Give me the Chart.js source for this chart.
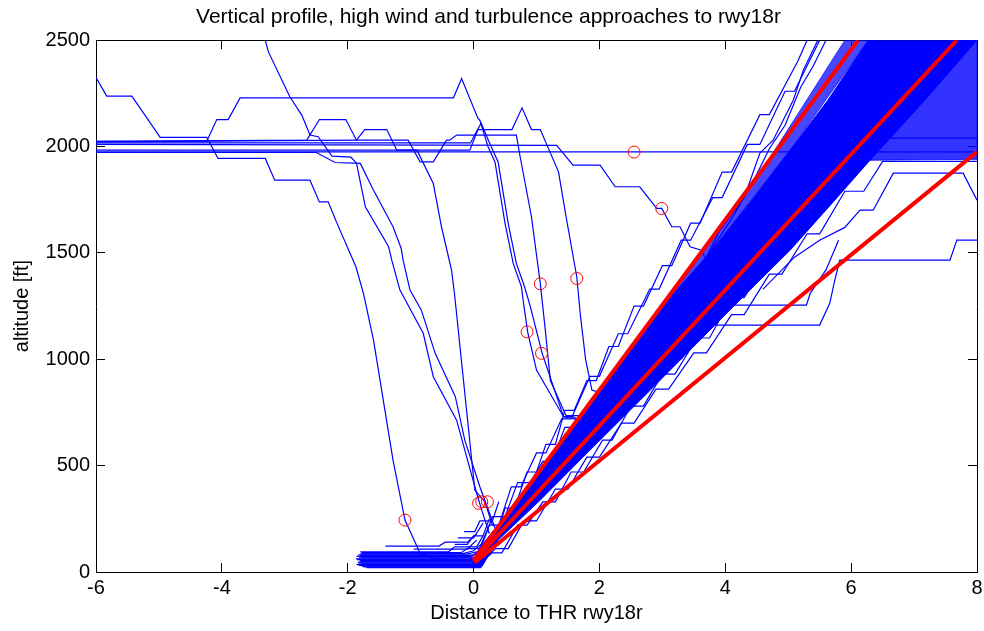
<!DOCTYPE html>
<html>
<head>
<meta charset="utf-8">
<script src="https://cdn.jsdelivr.net/npm/chart.js@4.4.1/dist/chart.umd.min.js"></script>
<style>
  html, body { margin: 0; padding: 0; background: #fff; }
</style>
</head>
<body>
<canvas id="grafico" width="984" height="631"></canvas>
<script>
// eixos
const xTicks = [-6, -4, -2, 0, 2, 4, 6, 8];
const yTicks = [0, 500, 1000, 1500, 2000, 2500];

// rampas de referencia (vermelho)
const slopeHigh = [[0.0, 55], [6.11, 2500]];
const slopeMid = [[0.0, 50], [7.68, 2500]];
const slopeLow = [[0.02, 45], [8.0, 1975]];

// marcadores (circulos vermelhos)
const markers = [[2.55, 1974], [2.99, 1709], [1.64, 1380], [1.06, 1355], [0.85, 1129], [1.08, 1028],
    [-1.09, 244], [0.08, 323], [0.13, 330], [0.22, 330]];

// trajetorias que fogem do padrao
const trackHigh = [[-6, 2325], [-5.83, 2237], [-5.43, 2237], [-4.98, 2043], [-4.24, 2043], [-4.06, 1944], [-3.31, 1944],
    [-3.16, 1842], [-2.60, 1842], [-2.45, 1740], [-2.31, 1740], [-2.18, 1646], [-1.87, 1435], [-1.75, 1310],
    [-1.59, 1090], [-1.28, 526], [-1.09, 244], [-0.85, 88], [-0.6, 62], [0.0, 55]];
const trackTop = [[-3.31, 2500], [-3.26, 2445], [-2.92, 2234], [-2.73, 2148], [-2.60, 2054], [-2.47, 2046], [-2.25, 1955],
    [-1.95, 1950], [-1.86, 1921], [-1.72, 1717], [-1.35, 1529], [-1.30, 1466], [-1.17, 1325], [-0.80, 1122],
    [-0.64, 918], [-0.27, 714], [0.05, 369], [0.12, 300], [0.25, 180]];
const trackDip = [[-6, 1972], [-2.5, 1972], [-2.2, 1925], [-1.80, 1921], [-1.59, 1795], [-1.28, 1623], [-1.15, 1521],
    [-1.12, 1466], [-1.01, 1325], [-0.83, 1231], [-0.61, 1028], [-0.29, 824], [-0.14, 620], [0.10, 401],
    [0.2, 320], [0.35, 200]];
const trackLate = [[-6, 1983], [-0.90, 1983], [-0.64, 1827], [-0.51, 1623], [-0.35, 1419], [-0.30, 1300], [0.02, 385],
    [0.18, 330], [0.3, 220]];
const trackPeak = [[-6, 2025], [-4.24, 2025], [-4.08, 2127], [-3.90, 2127], [-3.71, 2229], [-0.32, 2229], [-0.19, 2320],
    [0.07, 2132], [0.10, 2124], [0.23, 1999], [0.34, 1928], [0.50, 1639], [0.63, 1451], [0.76, 1341],
    [0.80, 1250], [0.86, 1128], [1.00, 949], [1.43, 730], [1.58, 730], [1.75, 700]];
const trackTwin = [[-6, 2017], [-0.05, 2017], [0.12, 2110], [0.28, 1999], [0.39, 1928], [0.55, 1639], [0.68, 1451],
    [0.81, 1341], [0.90, 1250], [1.09, 1028], [1.43, 730], [1.6, 720], [1.75, 690]];
const trackHump = [[-6, 2025], [-2.65, 2030], [-2.45, 2127], [-2.03, 2127], [-1.86, 2030], [-1.73, 2080], [-1.38, 2080],
    [-1.22, 1983], [-0.06, 1983], [0.07, 2080], [0.61, 2080], [0.77, 2182], [0.92, 2080], [1.06, 2080],
    [1.35, 1881], [1.47, 1670], [1.64, 1388], [1.70, 1200], [1.78, 1000], [1.88, 855], [2.05, 840]];
const trackWave = [[-6, 2022], [-1.80, 2030], [-1.04, 2030], [-0.85, 1928], [-0.64, 1928], [-0.43, 2030], [-0.38, 2030],
    [-0.27, 2054], [0.68, 2054], [0.74, 1952], [0.92, 1670], [1.06, 1357], [1.14, 1137], [1.22, 900], [1.47, 735],
    [1.72, 735]];
const trackStairs = [[-6, 2010], [1.32, 2006], [1.58, 1913], [2.01, 1913], [2.25, 1811], [2.64, 1811], [2.91, 1709],
    [2.99, 1709], [3.15, 1623], [3.28, 1623], [3.44, 1529], [3.62, 1513], [3.78, 1420], [4.0, 1420]];
const trackFlat = [[-6, 1975], [8, 1975]];

const trackRight1 = [[3.55, 1080], [3.73, 1161], [5.50, 1161], [5.66, 1263], [5.74, 1372], [5.82, 1466], [7.57, 1466],
    [7.68, 1560], [8, 1560]];
const trackRight2 = [[3.3, 1000], [3.6, 1150], [3.96, 1255], [5.29, 1255], [5.35, 1310], [5.6, 1420], [5.8, 1560]];
const trackRight3 = [[4.6, 1330], [5.1, 1480], [5.5, 1560], [5.9, 1620], [6.14, 1701], [6.35, 1701], [6.67, 1875],
    [7.78, 1875], [8.0, 1748]];
const trackLeft1 = [[2.9, 1000], [3.3, 1200], [3.6, 1420], [3.9, 1600], [4.3, 1760], [4.55, 1969], [4.76, 2030],
    [5.08, 2218], [5.24, 2359], [5.47, 2500]];
const trackLeft2 = [[3.7, 1480], [4.1, 1660], [4.45, 1840], [4.7, 1990], [4.95, 2100], [5.2, 2280], [5.4, 2380], [5.6, 2500]];

// degraus nas bordas do feixe
const edgeTracks = [
    [[0.0, 60], [0.2, 150], [0.35, 150], [0.5, 300], [0.65, 300], [0.85, 470], [1.0, 470], [1.15, 600], [1.3, 600],
     [1.45, 760], [1.6, 760], [1.8, 900], [1.95, 900], [2.15, 1060], [2.3, 1060], [2.55, 1250], [2.7, 1250],
     [3.0, 1440], [3.15, 1440], [3.45, 1640], [3.6, 1640], [3.95, 1880], [4.1, 1880], [4.55, 2150], [4.7, 2150],
     [5.15, 2400], [5.3, 2500]],
    [[0.05, 80], [0.25, 220], [0.4, 220], [0.6, 400], [0.75, 400], [1.0, 560], [1.15, 560], [1.4, 720], [1.55, 720],
     [1.85, 920], [2.0, 920], [2.3, 1120], [2.45, 1120], [2.8, 1330], [2.95, 1330], [3.3, 1560], [3.45, 1560],
     [3.8, 1760], [3.95, 1760], [4.35, 2010], [4.55, 2010], [4.95, 2260], [5.1, 2260], [5.5, 2500]],
    [[0.1, 40], [0.35, 110], [0.55, 110], [0.8, 240], [1.0, 240], [1.3, 390], [1.5, 390], [1.8, 540], [2.0, 540],
     [2.35, 700], [2.55, 700], [2.9, 860], [3.1, 860], [3.5, 1030], [3.7, 1030], [4.1, 1210], [4.3, 1210],
     [4.7, 1400], [4.9, 1400], [5.3, 1590], [5.5, 1590], [5.9, 1790], [6.2, 1790], [6.5, 1930], [8, 1930]],
    [[0.05, 30], [0.3, 90], [0.45, 90], [0.7, 220], [0.85, 220], [1.1, 330], [1.3, 330], [1.55, 470], [1.75, 470],
     [2.05, 620], [2.2, 620], [2.5, 780], [2.7, 780], [3.0, 930], [3.2, 930], [3.55, 1100], [3.75, 1100],
     [4.1, 1290], [4.3, 1290], [4.7, 1480], [4.9, 1480], [5.3, 1690], [5.5, 1690], [5.85, 1880], [6.1, 1880],
     [6.4, 2040], [8, 2040]],
    [[0.1, 100], [0.3, 260], [0.5, 260], [0.7, 420], [0.9, 420], [1.1, 520], [1.25, 520], [1.45, 680], [1.6, 680]]
];

// trechos horizontais junto ao solo
const floorTracks = [
    [[-1.80, 95], [-0.40, 95], [-0.30, 118], [0.05, 118], [0.15, 170]],
    [[-1.78, 91], [-0.2, 91], [-0.1, 110], [0.1, 110]],
    [[-1.78, 88], [-0.15, 88], [0.0, 100], [0.12, 130]],
    [[-1.81, 84], [-0.1, 84], [0.05, 95]],
    [[-1.84, 80], [0.0, 80], [0.1, 105]],
    [[-1.80, 77], [0.0, 77]],
    [[-1.86, 73], [-0.05, 73], [0.06, 90]],
    [[-1.79, 70], [0.0, 70]],
    [[-1.82, 66], [0.02, 66]],
    [[-1.87, 62], [0.03, 62]],
    [[-1.85, 58], [0.04, 58]],
    [[-1.81, 54], [0.05, 54]],
    [[-1.80, 50], [0.05, 50]],
    [[-1.84, 46], [0.07, 46]],
    [[-1.83, 42], [0.08, 42]],
    [[-1.79, 38], [0.09, 38]],
    [[-1.86, 35], [0.10, 35]],
    [[-1.82, 31], [0.11, 31]],
    [[-1.78, 28], [0.12, 28]],
    [[-1.75, 24], [0.12, 24]],
    [[-1.70, 21], [0.12, 21]],
    [[-1.40, 122], [-0.55, 122], [-0.45, 140], [-0.1, 140], [0.05, 180]],
    [[-0.95, 108], [-0.1, 108], [0.05, 150]],
    [[-0.25, 160], [0.0, 160], [0.15, 230]],
    [[-0.3, 130], [-0.1, 130], [0.0, 170], [0.15, 170], [0.25, 250]],
    [[-0.15, 190], [0.02, 190], [0.1, 240], [0.3, 240], [0.4, 330]]
];

// contorno do feixe denso de aproximacoes
const coreBand = [[-0.03, 25], [0.01, 56], [0.20, 150], [0.71, 338], [1.31, 573], [1.88, 808], [2.49, 1043],
    [3.09, 1278], [3.79, 1513], [4.42, 1748], [5.03, 1983], [5.63, 2218], [6.27, 2500], [8.0, 2500],
    [7.17, 2218], [6.30, 1936], [5.74, 1748], [5.03, 1513], [4.23, 1278], [3.44, 1043], [2.65, 808],
    [1.85, 573], [1.06, 338], [0.39, 150], [0.13, 25], [-0.03, 25]];
const sparseBand = [[0.0, 60], [1.5, 640], [3.0, 1240], [4.5, 1850], [5.9, 2500], [6.27, 2500], [5.03, 1983],
    [3.79, 1513], [2.49, 1043], [1.31, 573], [0.2, 150], [0.0, 60]];
const hatchBand = [[5.95, 1935], [8.0, 1940], [8.0, 2500], [7.6, 2500], [6.9, 2150], [5.95, 1935]];

function pontos(arr) {
    return arr.map(p => ({ x: p[0], y: p[1] }));
}

function trilha(arr) {
    return { data: pontos(arr), showLine: true, borderColor: '#0000ff', borderWidth: 1.2, pointRadius: 0, fill: false, order: 2 };
}

function area(arr, cor, ordem) {
    return { data: pontos(arr), showLine: true, borderColor: cor, backgroundColor: cor, borderWidth: 1, pointRadius: 0, fill: 'shape', order: ordem };
}

function rampa(arr) {
    return { data: pontos(arr), showLine: true, borderColor: '#ff0000', borderWidth: 4, pointRadius: 0, fill: false, order: 1 };
}

const datasets = [
    { data: pontos(markers), showLine: false, pointStyle: 'circle', pointRadius: 6, pointBorderWidth: 1,
      pointBorderColor: '#ff0000', pointBackgroundColor: 'rgba(0,0,0,0)', order: 0 },
    rampa(slopeHigh), rampa(slopeMid), rampa(slopeLow),
    trilha(trackHigh), trilha(trackTop), trilha(trackDip), trilha(trackLate), trilha(trackPeak),
    trilha(trackTwin), trilha(trackHump), trilha(trackWave), trilha(trackStairs), trilha(trackFlat),
    trilha(trackRight1), trilha(trackRight2), trilha(trackRight3), trilha(trackLeft1), trilha(trackLeft2),
    ...edgeTracks.map(trilha),
    ...floorTracks.map(trilha),
    area(coreBand, '#0000ff', 3),
    area(hatchBand, 'rgba(0,0,255,0.8)', 4),
    area(sparseBand, 'rgba(0,0,255,0.72)', 5)
];

function eixo(posicao, ticks, extra) {
    return Object.assign({
        type: 'linear',
        position: posicao,
        afterBuildTicks: s => { s.ticks = ticks.map(v => ({ value: v })); },
        grid: { drawOnChartArea: false, tickLength: -9, color: '#000', tickWidth: 1 },
        border: { display: true, color: '#000', width: 1 }
    }, extra);
}

Chart.defaults.font.family = 'Arial, "Liberation Sans", Helvetica, sans-serif';
Chart.defaults.color = '#000';

const ctx = document.getElementById('grafico').getContext('2d');
window.meuGrafico = new Chart(ctx, {
    type: 'scatter',
    data: { datasets },
    options: {
        responsive: false,
        animation: false,
        events: [],
        layout: { padding: { left: 0, right: 7, top: 0, bottom: 0 } },
        plugins: {
            legend: { display: false },
            tooltip: { enabled: false },
            title: {
                display: true,
                text: 'Vertical profile, high wind and turbulence approaches to rwy18r',
                font: { size: 21, weight: 'normal' },
                color: '#000',
                padding: { top: 5, bottom: 10 }
            }
        },
        scales: {
            x: eixo('bottom', xTicks, {
                min: -6, max: 8,
                afterFit: s => { s.height = 59; s.paddingLeft = 0; s.paddingRight = 0; },
                ticks: { padding: 13, font: { size: 20 }, maxRotation: 0, autoSkip: false, callback: v => String(v) },
                title: { display: true, text: 'Distance to THR rwy18r', font: { size: 20 }, padding: { top: 0, bottom: 6 } }
            }),
            xTop: eixo('top', xTicks, {
                min: -6, max: 8,
                afterFit: s => { s.height = 0; s.paddingLeft = 0; s.paddingRight = 0; },
                ticks: { display: false }
            }),
            y: eixo('left', yTicks, {
                min: 0, max: 2500,
                afterFit: s => { s.width = 96; s.paddingTop = 0; s.paddingBottom = 0; },
                ticks: { padding: 15, font: { size: 20 }, autoSkip: false, callback: v => String(v) },
                title: { display: true, text: 'altitude [ft]', font: { size: 20 }, padding: { top: 10, bottom: 0 } }
            }),
            yRight: eixo('right', yTicks, {
                min: 0, max: 2500,
                afterFit: s => { s.width = 0; s.paddingTop = 0; s.paddingBottom = 0; },
                ticks: { display: false }
            })
        }
    }
});
</script>
</body>
</html>
